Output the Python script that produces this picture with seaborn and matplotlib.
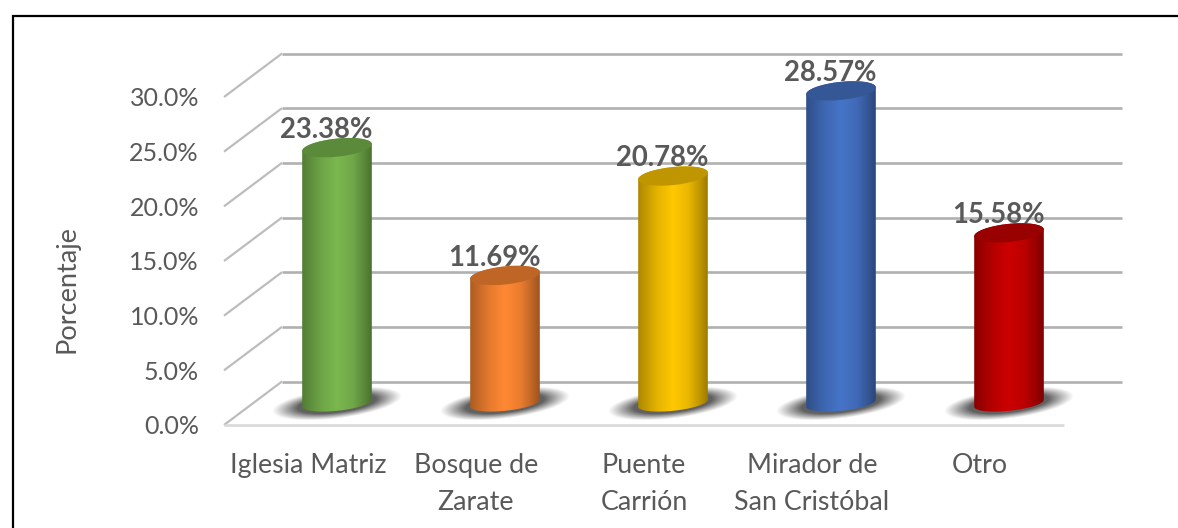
import matplotlib
matplotlib.use('Agg')
import matplotlib.pyplot as plt
import numpy as np
import seaborn as sns
from matplotlib.colors import to_rgb
from matplotlib.lines import Line2D
from matplotlib.path import Path
from matplotlib.patches import Ellipse
from matplotlib.transforms import Affine2D, IdentityTransform

categorias = ['Iglesia Matriz', 'Bosque de\nZarate', 'Puente\nCarrión', 'Mirador de\nSan Cristóbal', 'Otro']
porcentajes = [23.38, 11.69, 20.78, 28.57, 15.58]
etiquetas = ['23.38%', '11.69%', '20.78%', '28.57%', '15.58%']
colores = ['#7AB84F', '#FF8833', '#FFC800', '#4674C8', '#CC0000']
ticks_y = [0, 5, 10, 15, 20, 25, 30]
ticks_y_txt = ['0.0%', '5.0%', '10.0%', '15.0%', '20.0%', '25.0%', '30.0%']

W, H = 1178, 528
GRIS = '#595959'

sns.set_theme(style='white')
plt.rcParams['font.family'] = ['Lato', 'DejaVu Sans']

fig = plt.figure(figsize=(W / 100, H / 100), dpi=100)
ax = fig.add_axes([224 / W, (H - 425) / H, 840 / W, 328 / H])

sns.barplot(x=categorias, y=porcentajes, hue=categorias, palette=colores,
            width=70 / 168, legend=False, dodge=False, ax=ax)
ax.set_xlim(-0.5, 4.5)
ax.set_ylim(0, 30)
ax.set_autoscale_on(False)

# profundidad del grafico 3D, en pixeles
prof_x, prof_y = 58, 43.5
medio = Affine2D().translate(prof_x / 2, prof_y / 2)

# paredes: lineas de la cuadricula
x_izq, x_der = -0.5, 4.5
for t in ticks_y:
    p0 = ax.transData.transform((x_izq, t))
    p1 = p0 + (prof_x, prof_y)
    p2 = ax.transData.transform((x_der, t)) + (prof_x, prof_y)
    ax.add_line(Line2D([p1[0], p2[0]], [p1[1], p2[1]], color='#B0B0B0', lw=1.9, solid_capstyle='butt',
                       transform=IdentityTransform(), clip_on=False, zorder=0.5))
    ax.add_line(Line2D([p0[0], p1[0]], [p0[1], p1[1]], color='#BDBDBD', lw=1.6, solid_capstyle='butt',
                       transform=IdentityTransform(), clip_on=False, zorder=0.5))
ax.axhline(0, color='#D9D9D9', lw=1.9, clip_on=False, zorder=0.6, solid_capstyle='butt')


def puntos_elipse(cx, cy, a, b, ang, t0, t1, n=60):
    t = np.radians(np.linspace(t0, t1, n))
    c, s = np.cos(np.radians(ang)), np.sin(np.radians(ang))
    ex, ey = a * np.cos(t), b * np.sin(t)
    return np.column_stack([cx + ex * c - ey * s, cy + ex * s + ey * c])


def oscurecer(color, f):
    return tuple(np.array(to_rgb(color)) * f)


for i, (barra, valor, color) in enumerate(zip(ax.patches, porcentajes, colores)):
    barra.set_transform(ax.transData + medio)
    barra.set_clip_on(False)
    barra.set_linewidth(0)
    barra.set_visible(False)
    xc = barra.get_x() + barra.get_width() / 2
    arriba = (ax.transData + medio).transform((xc, valor))
    abajo = (ax.transData + medio).transform((xc, 0))
    a, b, ang = 35, 9, 6

    # sombra en el piso
    gx, gy = np.meshgrid(np.arange(-80, 81), np.arange(-30, 31))
    c, s = np.cos(np.radians(7)), np.sin(np.radians(7))
    u = (gx * c + gy * s) / 66
    v = (-gx * s + gy * c) / 15
    r = np.sqrt(u ** 2 + v ** 2)
    alfa = np.clip((1.0 - r) / 0.4, 0, 1) ** 1.1 * 0.85
    sombra = np.zeros(r.shape + (4,))
    sombra[..., :3] = 0.27
    sombra[..., 3] = alfa
    ax.imshow(sombra, origin='lower', aspect='auto', zorder=1, clip_on=False,
              interpolation='bilinear', transform=IdentityTransform(),
              extent=[abajo[0] - 80, abajo[0] + 80, abajo[1] - 31, abajo[1] + 30])

    # cuerpo del cilindro con degradado
    pos = np.linspace(0, 1, 70)
    f = np.interp(pos, [0, 0.1, 0.28, 0.5, 0.72, 0.88, 1], [0.68, 0.76, 0.9, 1.0, 0.92, 0.76, 0.62])
    grad = (np.array(to_rgb(color))[None, None, :] * f[None, :, None])
    img = ax.imshow(grad, aspect='auto', zorder=3, interpolation='bilinear',
                    transform=IdentityTransform(),
                    extent=[abajo[0] - a, abajo[0] + a, abajo[1] - 15, arriba[1] + 15])
    contorno = np.vstack([puntos_elipse(abajo[0], abajo[1], a, 7.5, ang, 180, 360),
                          puntos_elipse(arriba[0], arriba[1], a, b, ang, 0, 180)])
    img.set_clip_box(fig.bbox)
    img.set_clip_path(Path(np.vstack([contorno, contorno[0]]), closed=True), IdentityTransform())

    # tapa superior
    ax.add_patch(Ellipse(arriba, 2 * a, 2 * b, angle=ang, facecolor=oscurecer(color, 0.75),
                         edgecolor='none', transform=IdentityTransform(), clip_on=False, zorder=4))

    # etiqueta de datos
    ax.annotate(etiquetas[i], xy=(xc, valor), xytext=(18, 39.5),
                textcoords='offset pixels', ha='center', va='center', fontsize=19.8,
                fontweight='bold', color=GRIS, annotation_clip=False, zorder=5)

ax.set_xticks(range(5))
ax.set_xticklabels(categorias, linespacing=1.59)
ax.set_yticks(ticks_y)
ax.set_yticklabels(ticks_y_txt)
ax.tick_params(axis='x', length=0, pad=20.5, labelsize=19.3, labelcolor=GRIS)
ax.tick_params(axis='y', length=0, pad=18, labelsize=18, labelcolor=GRIS)
ax.set_xlabel('')
ax.set_ylabel('Porcentaje', fontsize=19.5, color=GRIS, va='center')
ax.yaxis.set_label_coords((67 - 224) / 840, (425 - 289) / 328)
sns.despine(ax=ax, left=True, bottom=True)
ax.patch.set_visible(False)

# marco negro del documento
fig.add_artist(Line2D([12.5 / W, 12.5 / W, 1], [0, (H - 16) / H, (H - 16) / H],
                      color='black', lw=1.6, solid_joinstyle='miter'))

fig.savefig('out.png', dpi=100, facecolor='white')
